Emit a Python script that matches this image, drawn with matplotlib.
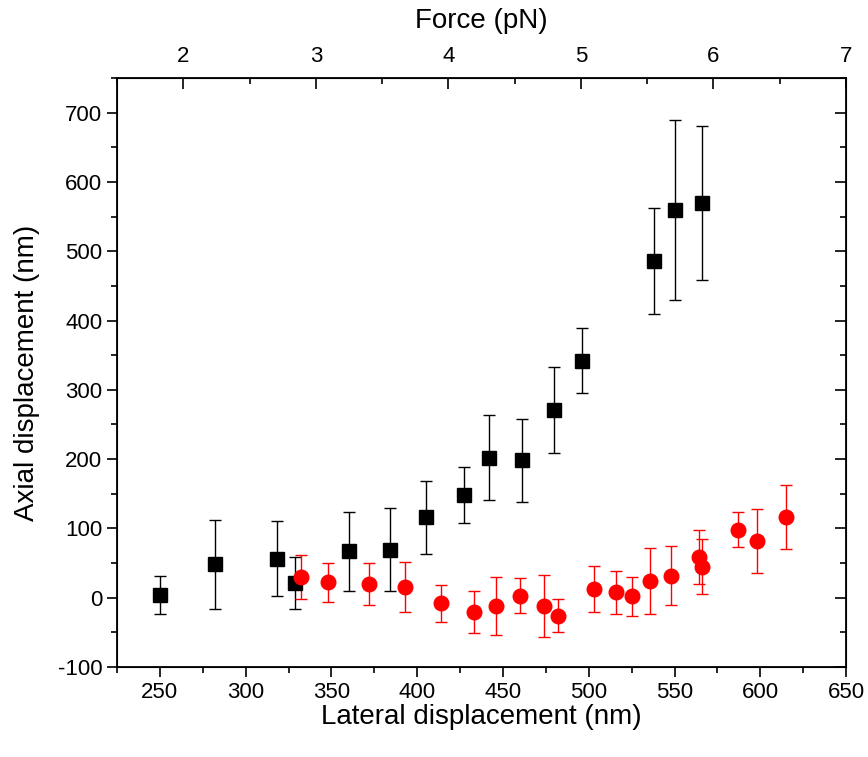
import numpy as np
import matplotlib.pyplot as plt
from matplotlib.ticker import MultipleLocator

plt.rcParams['font.family'] = ['Liberation Sans', 'DejaVu Sans']
plt.rcParams['axes.unicode_minus'] = False

# black squares
lat_sq = [250, 282, 318, 329, 360, 384, 405, 427, 442, 461, 480, 496, 538, 550, 566]
ax_sq = [4, 48, 56, 21, 67, 69, 116, 148, 202, 198, 271, 342, 486, 560, 570]
err_sq = [28, 64, 54, 38, 57, 60, 53, 40, 61, 60, 62, 47, 76, 130, 111]

# red circles
lat_ci = [332, 348, 372, 393, 414, 433, 446, 460, 474, 482, 503, 516, 525, 536, 548,
          564, 566, 587, 598, 615]
ax_ci = [30, 22, 20, 16, -8, -21, -12, 3, -12, -26, 13, 8, 2, 24, 32,
         59, 45, 98, 82, 116]
err_ci = [32, 28, 30, 36, 27, 30, 42, 25, 45, 24, 33, 31, 28, 47, 43,
          39, 39, 25, 46, 46]

force_lim = (1.5, 7.0)

fig = plt.figure(figsize=(8.68, 7.57), dpi=100)
ax = fig.add_axes([0.1348, 0.1189, 0.8399, 0.7781])

ax.errorbar(lat_sq, ax_sq, yerr=err_sq, fmt='s', color='black', ecolor='black',
            ms=9.5, elinewidth=1, capsize=4.5, capthick=1, zorder=3)
ax.errorbar(lat_ci, ax_ci, yerr=err_ci, fmt='o', color='red', ecolor='red',
            ms=10.5, elinewidth=1, capsize=4.5, capthick=1, zorder=3)

ax.set_xlim(225, 650)
ax.set_ylim(-100, 750)
ax.xaxis.set_major_locator(MultipleLocator(50))
ax.xaxis.set_minor_locator(MultipleLocator(25))
ax.yaxis.set_major_locator(MultipleLocator(100))
ax.yaxis.set_minor_locator(MultipleLocator(50))
ax.tick_params(which='both', direction='out', width=1.2, labelsize=16,
               top=False, right=False)
ax.tick_params(which='major', length=7)
ax.tick_params(which='minor', length=4)
ax.set_xlabel('Lateral displacement (nm)', fontsize=20, labelpad=1)
ax.set_ylabel('Axial displacement (nm)', fontsize=20, labelpad=13)
for s in ax.spines.values():
    s.set_linewidth(1.3)

ax2 = ax.twiny()
ax2.set_xlim(*force_lim)
ax2.xaxis.set_major_locator(MultipleLocator(1))
ax2.xaxis.set_minor_locator(MultipleLocator(0.5))
ax2.yaxis.set_visible(True)
ax2.tick_params(axis='x', which='both', direction='in', width=1.2, labelsize=16,
                top=True, bottom=False, pad=8)
ax2.tick_params(axis='y', which='both', direction='in', width=1.2,
                left=False, right=True, labelleft=False, labelright=False)
ax2.tick_params(which='major', length=8)
ax2.tick_params(which='minor', length=4)
ax2.set_xlabel('Force (pN)', fontsize=20, labelpad=13)

fig.savefig('out.png', dpi=100)
